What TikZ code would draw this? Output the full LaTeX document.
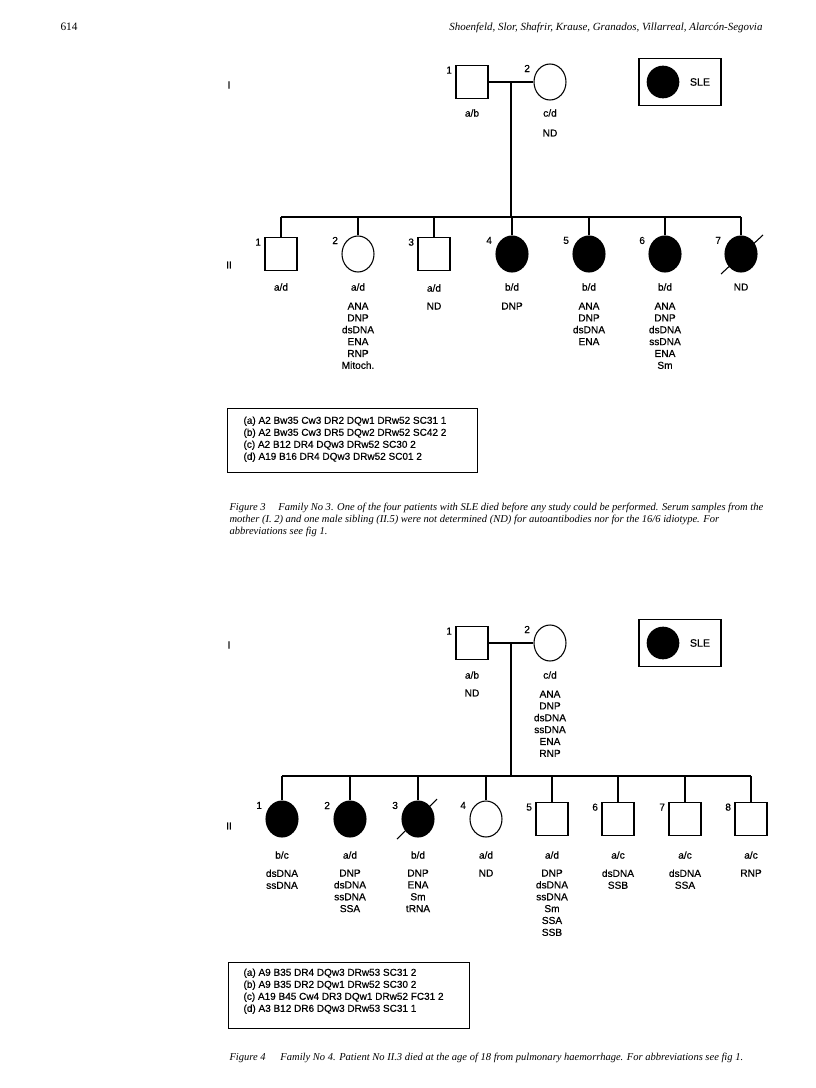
\documentclass[tikz,border=0pt]{standalone}
\usepackage{fontspec}
\setmainfont{Liberation Serif}
\newfontfamily\hel[FakeBold=0.6]{Liberation Sans}
\usetikzlibrary{shapes.geometric,calc}
\newcommand\pnum[3]{\node[num] (#1) at ($(#2.west |- #2.north)+(-3,5)$) {#3};}
\begin{document}
\begin{tikzpicture}[x=0.75pt,y=-0.75pt, line width=0.8pt,
 male/.style={draw, rectangle, minimum width=24pt, minimum height=24.5pt, inner sep=0pt},
 female/.style={draw, ellipse, minimum width=24pt, minimum height=27pt, inner sep=0pt},
 aff/.style={fill=black},
 lab/.style={font=\hel\fontsize{7.6}{8.9}\selectfont, inner sep=0pt, align=center},
 lst/.style={lab},
 num/.style={lab, anchor=east},
 leg/.style={font=\hel\fontsize{7.5}{9}\selectfont, inner sep=0pt, align=left, anchor=north west},
 captext/.style={font=\itshape\fontsize{7.9}{9}\selectfont, inner sep=0pt, anchor=base west},
 legbox/.style={draw, line width=0.7pt},
 slebox/.style={draw, line width=0.8pt, minimum width=61.5pt, minimum height=35pt, inner sep=0pt},
 slesym/.style={fill=black, circle, minimum size=24.5pt, inner sep=0pt},
 dead/.style={line width=0.8pt}
 ]
\useasboundingbox (0,0) rectangle (816,1088);
\fill[white] (0,0) rectangle (816,1088);

% header
\node[font=\fontsize{8.5}{10}\selectfont, anchor=base west, inner sep=0pt] (pg) at (60,31) {614};
\node[font=\itshape\fontsize{8.2}{10}\selectfont, anchor=base east, inner sep=0pt] (auth) at (763,31) {Shoenfeld, Slor, Shafrir, Krause, Granados, Villarreal, Alarcón-Segovia};

% ================= Figure 3 =================
\node[lab] (f3gI) at (229,85) {I};
\node[lab] (f3gII) at (229,265) {II};
\node[male] (f3a1) at (472,82) {};
\node[female] (f3a2) at (550,82) {};
\pnum{f3a1n}{f3a1}{1}
\pnum{f3a2n}{f3a2}{2}
\node[lab] (f3a1g) at ($(f3a1)+(0,31)$) {a/b};
\node[lab] (f3a2g) at ($(f3a2)+(0,31)$) {c/d};
\node[lab] (f3a2l) at ($(f3a2)+(0,51)$) {ND};
\draw (f3a1.east) -- (f3a2.west);
\coordinate (f3m) at ($(f3a1.east)!0.5!(f3a2.west)$);
\coordinate (f3s) at ($(f3m)+(0,135)$);
\draw (f3m) -- (f3s);

\node[slebox] (f3sle) at (680,82) {};
\node[slesym] (f3slec) at (663,82) {};
\node[lab, font=\hel\fontsize{8}{9}\selectfont] (f3slet) at (700,82) {SLE};

\node[male] (f3c1) at (281,254) {};
\node[female] (f3c2) at (358,254) {};
\node[male] (f3c3) at (434,254) {};
\node[female, aff] (f3c4) at (512,254) {};
\node[female, aff] (f3c5) at (589,254) {};
\node[female, aff] (f3c6) at (665,254) {};
\node[female, aff] (f3c7) at (741,254) {};
\draw[dead] ($(f3c7)+(-20,20)$) -- ($(f3c7)+(22,-19)$);
\draw (f3c1 |- f3s) -- (f3c7 |- f3s);
\foreach \i in {1,...,7}{\draw (f3c\i.north |- f3s) -- (f3c\i.north);}
\pnum{f3c1n}{f3c1}{1}
\pnum{f3c2n}{f3c2}{2}
\pnum{f3c3n}{f3c3}{3}
\pnum{f3c4n}{f3c4}{4}
\pnum{f3c5n}{f3c5}{5}
\pnum{f3c6n}{f3c6}{6}
\pnum{f3c7n}{f3c7}{7}
\node[lab] (f3c1g) at ($(f3c1)+(0,33)$) {a/d};
\node[lab] (f3c2g) at ($(f3c2)+(0,33)$) {a/d};
\node[lab] (f3c3g) at ($(f3c3)+(0,34)$) {a/d};
\node[lab] (f3c4g) at ($(f3c4)+(0,33)$) {b/d};
\node[lab] (f3c5g) at ($(f3c5)+(0,33)$) {b/d};
\node[lab] (f3c6g) at ($(f3c6)+(0,33)$) {b/d};
\node[lab] (f3c7g) at ($(f3c7)+(0,33)$) {ND};
\node[lst, anchor=north] (f3c2l) at ($(f3c2)+(0,48)$) {ANA\\DNP\\dsDNA\\ENA\\RNP\\Mitoch.};
\node[lst, anchor=north] (f3c3l) at ($(f3c3)+(0,48)$) {ND};
\node[lst, anchor=north] (f3c4l) at ($(f3c4)+(0,48)$) {DNP};
\node[lst, anchor=north] (f3c5l) at ($(f3c5)+(0,48)$) {ANA\\DNP\\dsDNA\\ENA};
\node[lst, anchor=north] (f3c6l) at ($(f3c6)+(0,48)$) {ANA\\DNP\\dsDNA\\ssDNA\\ENA\\Sm};

\draw[legbox] (227,408) rectangle (477,472);
\node[leg] (f3leg) at (243,416) {(a) A2 Bw35 Cw3 DR2 DQw1 DRw52 SC31 1\\(b) A2 Bw35 Cw3 DR5 DQw2 DRw52 SC42 2\\(c) A2 B12 DR4 DQw3 DRw52 SC30 2\\(d) A19 B16 DR4 DQw3 DRw52 SC01 2};

\node[captext] (f3cap1) at (229,510) {Figure 3\hspace{1.2em}Family No 3. One of the four patients with SLE died before any study could be performed. Serum samples from the};
\node[captext] (f3cap2) at (229,522) {mother (I. 2) and one male sibling (II.5) were not determined (ND) for autoantibodies nor for the 16/6 idiotype. For};
\node[captext] (f3cap3) at (229,534) {abbreviations see fig 1.};

% ================= Figure 4 =================
\node[lab] (f4gI) at (229,645) {I};
\node[lab] (f4gII) at (229,826) {II};
\node[male] (f4a1) at (472,643) {};
\node[female] (f4a2) at (550,643) {};
\pnum{f4a1n}{f4a1}{1}
\pnum{f4a2n}{f4a2}{2}
\node[lab] (f4a1g) at ($(f4a1)+(0,32)$) {a/b};
\node[lab] (f4a2g) at ($(f4a2)+(0,32)$) {c/d};
\node[lab] (f4a1l) at ($(f4a1)+(0,50)$) {ND};
\node[lst, anchor=north] (f4a2l) at ($(f4a2)+(0,47)$) {ANA\\DNP\\dsDNA\\ssDNA\\ENA\\RNP};
\draw (f4a1.east) -- (f4a2.west);
\coordinate (f4m) at ($(f4a1.east)!0.5!(f4a2.west)$);
\coordinate (f4s) at ($(f4m)+(0,133)$);
\draw (f4m) -- (f4s);

\node[slebox] (f4sle) at (680,643) {};
\node[slesym] (f4slec) at (663,643) {};
\node[lab, font=\hel\fontsize{8}{9}\selectfont] (f4slet) at (700,643) {SLE};

\node[female, aff] (f4c1) at (282,819) {};
\node[female, aff] (f4c2) at (350,819) {};
\node[female, aff] (f4c3) at (418,819) {};
\node[female] (f4c4) at (486,819) {};
\node[male] (f4c5) at (552,819) {};
\node[male] (f4c6) at (618,819) {};
\node[male] (f4c7) at (685,819) {};
\node[male] (f4c8) at (751,819) {};
\draw[dead] ($(f4c3)+(-21,20)$) -- ($(f4c3)+(19,-20)$);
\draw (f4c1 |- f4s) -- (f4c8 |- f4s);
\foreach \i in {1,...,8}{\draw (f4c\i.north |- f4s) -- (f4c\i.north);}
\pnum{f4c1n}{f4c1}{1}
\pnum{f4c2n}{f4c2}{2}
\pnum{f4c3n}{f4c3}{3}
\pnum{f4c4n}{f4c4}{4}
\pnum{f4c5n}{f4c5}{5}
\pnum{f4c6n}{f4c6}{6}
\pnum{f4c7n}{f4c7}{7}
\pnum{f4c8n}{f4c8}{8}
\node[lab] (f4c1g) at ($(f4c1)+(0,36)$) {b/c};
\node[lab] (f4c2g) at ($(f4c2)+(0,36)$) {a/d};
\node[lab] (f4c3g) at ($(f4c3)+(0,36)$) {b/d};
\node[lab] (f4c4g) at ($(f4c4)+(0,36)$) {a/d};
\node[lab] (f4c5g) at ($(f4c5)+(0,36)$) {a/d};
\node[lab] (f4c6g) at ($(f4c6)+(0,36)$) {a/c};
\node[lab] (f4c7g) at ($(f4c7)+(0,36)$) {a/c};
\node[lab] (f4c8g) at ($(f4c8)+(0,36)$) {a/c};
\node[lst, anchor=north] (f4c1l) at ($(f4c1)+(0,50)$) {dsDNA\\ssDNA};
\node[lst, anchor=north] (f4c2l) at ($(f4c2)+(0,50)$) {DNP\\dsDNA\\ssDNA\\SSA};
\node[lst, anchor=north] (f4c3l) at ($(f4c3)+(0,50)$) {DNP\\ENA\\Sm\\tRNA};
\node[lst, anchor=north] (f4c4l) at ($(f4c4)+(0,50)$) {ND};
\node[lst, anchor=north] (f4c5l) at ($(f4c5)+(0,50)$) {DNP\\dsDNA\\ssDNA\\Sm\\SSA\\SSB};
\node[lst, anchor=north] (f4c6l) at ($(f4c6)+(0,50)$) {dsDNA\\SSB};
\node[lst, anchor=north] (f4c7l) at ($(f4c7)+(0,50)$) {dsDNA\\SSA};
\node[lst, anchor=north] (f4c8l) at ($(f4c8)+(0,50)$) {RNP};

\draw[legbox] (228,962) rectangle (469,1028);
\node[leg] (f4leg) at (243,968) {(a) A9 B35 DR4 DQw3 DRw53 SC31 2\\(b) A9 B35 DR2 DQw1 DRw52 SC30 2\\(c) A19 B45 Cw4 DR3 DQw1 DRw52 FC31 2\\(d) A3 B12 DR6 DQw3 DRw53 SC31 1};

\node[captext] (f4cap) at (229,1060) {Figure 4\hspace{1.4em}Family No 4. Patient No II.3 died at the age of 18 from pulmonary haemorrhage. For abbreviations see fig 1.};
\end{tikzpicture}
\end{document}
